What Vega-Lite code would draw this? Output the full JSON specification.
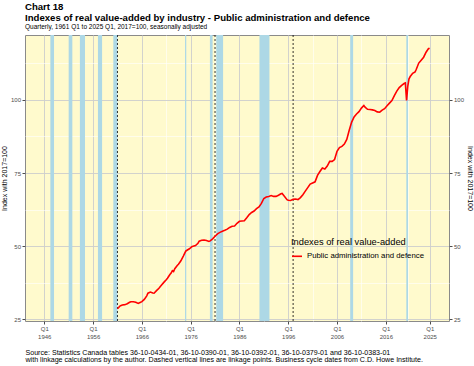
{
  "$schema": "https://vega.github.io/schema/vega-lite/v6.json",
  "width": 424,
  "height": 286,
  "autosize": {"type": "none"},
  "padding": {"left": 25, "top": 35, "right": 25, "bottom": 45},
  "background": "white",
  "config": {
    "font": "Liberation Sans",
    "view": {"stroke": "#8a8a8a", "strokeWidth": 1, "fill": "#FFFACD"}
  },
  "title": {
    "text": ["Chart 18", "Indexes of real value-added by industry - Public administration and defence"],
    "subtitle": "Quarterly, 1961 Q1 to 2025 Q1, 2017=100, seasonally adjusted",
    "anchor": "start",
    "frame": "group",
    "fontSize": 9.6,
    "fontWeight": "bold",
    "color": "black",
    "lineHeight": 11,
    "subtitleFontSize": 6.5,
    "subtitleColor": "black",
    "subtitlePadding": 2,
    "offset": 4
  },
  "datasets": {
    "bands": [
      {"start": 1947.25, "end": 1948.0},
      {"start": 1951.0, "end": 1951.75},
      {"start": 1953.3, "end": 1954.35},
      {"start": 1957.0, "end": 1957.85},
      {"start": 1960.15, "end": 1961.0},
      {"start": 1974.85, "end": 1975.1},
      {"start": 1979.95, "end": 1980.5},
      {"start": 1981.25, "end": 1982.65},
      {"start": 1990.1, "end": 1992.15},
      {"start": 2008.7, "end": 2009.3},
      {"start": 2020.2, "end": 2020.55}
    ],
    "links": [{"t": 1961.0}, {"t": 1981.0}, {"t": 1997.0}],
    "series": [
      {"t": 1961.0, "v": 28.6}, {"t": 1961.25, "v": 29.0}, {"t": 1961.5, "v": 29.5}, {"t": 1961.75, "v": 29.7},
      {"t": 1962.0, "v": 29.9}, {"t": 1962.5, "v": 30.0}, {"t": 1962.75, "v": 30.1}, {"t": 1963.0, "v": 30.3},
      {"t": 1963.5, "v": 30.8}, {"t": 1963.75, "v": 31.0}, {"t": 1964.25, "v": 31.0}, {"t": 1964.75, "v": 30.8},
      {"t": 1965.25, "v": 30.4}, {"t": 1965.75, "v": 30.8}, {"t": 1966.0, "v": 31.0}, {"t": 1966.5, "v": 31.8},
      {"t": 1967.0, "v": 33.0}, {"t": 1967.25, "v": 33.9}, {"t": 1967.75, "v": 34.3}, {"t": 1968.25, "v": 34.0},
      {"t": 1968.5, "v": 33.9}, {"t": 1969.0, "v": 34.8}, {"t": 1969.5, "v": 35.6}, {"t": 1970.0, "v": 36.6},
      {"t": 1970.5, "v": 37.6}, {"t": 1971.0, "v": 38.5}, {"t": 1971.25, "v": 39.0}, {"t": 1971.75, "v": 40.3},
      {"t": 1972.0, "v": 40.8}, {"t": 1972.25, "v": 41.6}, {"t": 1972.5, "v": 41.3}, {"t": 1972.75, "v": 42.3},
      {"t": 1973.25, "v": 43.4}, {"t": 1973.5, "v": 43.8}, {"t": 1974.0, "v": 45.0}, {"t": 1974.5, "v": 46.6},
      {"t": 1975.0, "v": 48.3}, {"t": 1975.25, "v": 48.6}, {"t": 1975.75, "v": 49.1}, {"t": 1976.25, "v": 49.8},
      {"t": 1976.5, "v": 50.0}, {"t": 1977.0, "v": 50.2}, {"t": 1977.5, "v": 51.0}, {"t": 1977.75, "v": 51.7},
      {"t": 1978.25, "v": 52.0}, {"t": 1978.75, "v": 52.1}, {"t": 1979.25, "v": 51.9}, {"t": 1979.75, "v": 51.6},
      {"t": 1980.0, "v": 51.8}, {"t": 1980.5, "v": 52.5}, {"t": 1981.0, "v": 53.4}, {"t": 1981.5, "v": 54.2},
      {"t": 1982.0, "v": 54.7}, {"t": 1982.5, "v": 55.1}, {"t": 1983.0, "v": 55.4}, {"t": 1983.5, "v": 55.8},
      {"t": 1984.0, "v": 56.4}, {"t": 1984.5, "v": 56.8}, {"t": 1985.0, "v": 56.9}, {"t": 1985.5, "v": 57.8},
      {"t": 1986.0, "v": 58.5}, {"t": 1986.5, "v": 58.6}, {"t": 1987.0, "v": 58.7}, {"t": 1987.5, "v": 59.7},
      {"t": 1988.0, "v": 60.8}, {"t": 1988.5, "v": 61.5}, {"t": 1989.0, "v": 62.0}, {"t": 1989.5, "v": 62.8},
      {"t": 1990.0, "v": 63.4}, {"t": 1990.5, "v": 64.6}, {"t": 1991.0, "v": 66.3}, {"t": 1991.5, "v": 66.8},
      {"t": 1992.0, "v": 67.0}, {"t": 1992.5, "v": 67.3}, {"t": 1993.0, "v": 67.0}, {"t": 1993.5, "v": 67.0},
      {"t": 1994.0, "v": 67.4}, {"t": 1994.5, "v": 67.9}, {"t": 1994.75, "v": 68.0}, {"t": 1995.25, "v": 67.0},
      {"t": 1995.75, "v": 65.9}, {"t": 1996.0, "v": 65.7}, {"t": 1996.5, "v": 65.6}, {"t": 1997.0, "v": 66.0},
      {"t": 1997.5, "v": 66.1}, {"t": 1998.0, "v": 65.9}, {"t": 1998.5, "v": 66.6}, {"t": 1999.0, "v": 67.6},
      {"t": 1999.5, "v": 68.8}, {"t": 2000.0, "v": 70.0}, {"t": 2000.5, "v": 71.2}, {"t": 2001.0, "v": 71.6},
      {"t": 2001.5, "v": 72.0}, {"t": 2002.0, "v": 74.2}, {"t": 2002.5, "v": 75.5}, {"t": 2003.0, "v": 76.7},
      {"t": 2003.5, "v": 76.4}, {"t": 2004.0, "v": 77.4}, {"t": 2004.5, "v": 79.0}, {"t": 2005.0, "v": 79.0},
      {"t": 2005.5, "v": 79.6}, {"t": 2006.0, "v": 82.4}, {"t": 2006.5, "v": 83.7}, {"t": 2007.0, "v": 84.1},
      {"t": 2007.5, "v": 84.9}, {"t": 2008.0, "v": 86.5}, {"t": 2008.5, "v": 89.6}, {"t": 2009.0, "v": 92.4},
      {"t": 2009.5, "v": 94.2}, {"t": 2010.0, "v": 95.2}, {"t": 2010.5, "v": 96.0}, {"t": 2011.0, "v": 97.2},
      {"t": 2011.5, "v": 98.1}, {"t": 2011.75, "v": 97.5}, {"t": 2012.25, "v": 96.8}, {"t": 2012.75, "v": 96.7},
      {"t": 2013.25, "v": 96.6}, {"t": 2013.75, "v": 96.4}, {"t": 2014.25, "v": 95.9}, {"t": 2014.75, "v": 95.8},
      {"t": 2015.25, "v": 96.5}, {"t": 2015.75, "v": 97.0}, {"t": 2016.25, "v": 98.0}, {"t": 2016.75, "v": 98.9},
      {"t": 2017.25, "v": 99.8}, {"t": 2017.75, "v": 101.5}, {"t": 2018.25, "v": 103.0}, {"t": 2018.75, "v": 104.2},
      {"t": 2019.25, "v": 105.0}, {"t": 2019.75, "v": 105.6}, {"t": 2020.0, "v": 105.8}, {"t": 2020.25, "v": 99.8},
      {"t": 2020.5, "v": 104.6}, {"t": 2020.75, "v": 107.2}, {"t": 2021.0, "v": 108.0}, {"t": 2021.5, "v": 109.1},
      {"t": 2022.0, "v": 109.6}, {"t": 2022.25, "v": 110.5}, {"t": 2022.75, "v": 112.6}, {"t": 2023.25, "v": 113.6},
      {"t": 2023.75, "v": 114.6}, {"t": 2024.25, "v": 116.3}, {"t": 2024.75, "v": 117.6}, {"t": 2025.0, "v": 117.6}
    ]
  },
  "layer": [
    {
      "data": {"name": "bands"},
      "mark": {"type": "rect", "color": "#ADD8E6"},
      "encoding": {
        "x": {
          "field": "start", "type": "quantitative",
          "scale": {"domain": [1942.05, 2028.95], "nice": false, "zero": false},
          "axis": {
            "orient": "bottom",
            "values": [1946, 1956, 1966, 1976, 1986, 1996, 2006, 2016, 2025],
            "labelExpr": "['Q1', '' + datum.value]",
            "grid": true, "gridColor": "#CDCDCD", "gridWidth": 0.9,
            "domain": false, "ticks": true, "tickColor": "#4D4D4D", "tickSize": 3,
            "labelFontSize": 6, "labelColor": "#4D4D4D", "labelPadding": 1.5, "labelLineHeight": 7.5,
            "labelFlush": false, "labelOverlap": false, "labelBaseline": "top", "labelDx": 3,
            "title": ["Source: Statistics Canada tables 36-10-0434-01, 36-10-0390-01, 36-10-0392-01, 36-10-0379-01 and 36-10-0383-01", "with linkage calculations by the author. Dashed vertical lines are linkage points. Business cycle dates from C.D. Howe Institute."],
            "titleFontSize": 7.1, "titleFontWeight": "normal", "titleColor": "black",
            "titleAnchor": "start", "titleAlign": "left", "titleBaseline": "top",
            "titleX": 0, "titleY": 27, "titleLineHeight": 7.7
          }
        },
        "x2": {"field": "end"}
      }
    },
    {
      "data": {"name": "links"},
      "mark": {"type": "rule", "color": "black", "strokeWidth": 0.8, "strokeDash": [2, 2]},
      "encoding": {
        "x": {
          "field": "t", "type": "quantitative",
          "axis": {
            "orient": "top",
            "values": [1951, 1961, 1971, 1981, 1991, 2001, 2011, 2020.5],
            "grid": true, "gridColor": "white", "gridWidth": 0.6,
            "labels": false, "ticks": false, "domain": false, "title": null
          }
        }
      }
    },
    {
      "data": {"name": "series"},
      "mark": {"type": "line", "strokeOpacity": 0},
      "encoding": {
        "x": {"field": "t", "type": "quantitative", "axis": null},
        "y": {
          "field": "v", "type": "quantitative",
          "axis": {
            "orient": "left",
            "values": [37.5, 62.5, 87.5, 112.5],
            "grid": true, "gridColor": "white", "gridWidth": 0.6,
            "labels": false, "ticks": false, "domain": false, "title": null
          }
        }
      }
    },
    {
      "data": {"name": "series"},
      "mark": {"type": "line", "strokeOpacity": 0},
      "encoding": {
        "x": {"field": "t", "type": "quantitative", "axis": null},
        "y": {
          "field": "v", "type": "quantitative",
          "axis": {
            "orient": "right",
            "values": [25, 50, 75, 100],
            "grid": false, "domain": false, "tickSize": 3, "tickColor": "#4D4D4D",
            "labelFontSize": 6, "labelColor": "#4D4D4D", "labelPadding": 1.5,
            "title": "Index with 2017=100", "titleFontSize": 7, "titleFontWeight": "normal",
            "titleColor": "black", "titlePadding": 3
          }
        }
      }
    },
    {
      "data": {"name": "series"},
      "mark": {"type": "line", "strokeWidth": 1.6},
      "encoding": {
        "x": {"field": "t", "type": "quantitative", "axis": null},
        "y": {
          "field": "v", "type": "quantitative",
          "scale": {"domain": [24.4, 122.2], "nice": false, "zero": false},
          "axis": {
            "orient": "left",
            "values": [25, 50, 75, 100],
            "grid": true, "gridColor": "#CDCDCD", "gridWidth": 0.9,
            "domain": false, "tickSize": 3, "tickColor": "#4D4D4D",
            "labelFontSize": 6, "labelColor": "#4D4D4D", "labelPadding": 1.5,
            "title": "Index with 2017=100", "titleFontSize": 7, "titleFontWeight": "normal",
            "titleColor": "black", "titlePadding": 3
          }
        },
        "color": {
          "datum": "Public administration and defence",
          "type": "nominal",
          "scale": {"range": ["#FF0000"]},
          "legend": {
            "orient": "none", "legendX": 266, "legendY": 203,
            "title": "Indexes of real value-added",
            "titleFontSize": 9.3, "titleFontWeight": "normal", "titleColor": "black", "titlePadding": 3,
            "labelFontSize": 7.8, "labelColor": "black", "labelOffset": 4,
            "symbolType": "stroke", "symbolSize": 100, "symbolStrokeWidth": 1.6
          }
        }
      }
    }
  ],
  "resolve": {"axis": {"x": "independent", "y": "independent"}}
}
